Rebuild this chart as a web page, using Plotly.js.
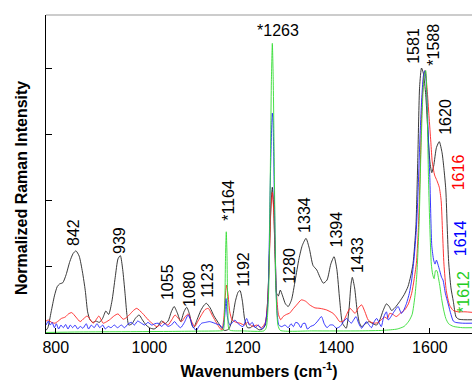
<!DOCTYPE html>
<html>
<head>
<meta charset="utf-8">
<script src="https://cdn.plot.ly/plotly-3.0.1.min.js"></script>
<style>
  html, body { margin: 0; padding: 0; background: #fff; }
  #chart { width: 472px; height: 383px; }
</style>
</head>
<body>
<div id="chart"></div>
<script>
// Raman spectra: [wavenumber (cm-1), normalized intensity]
const spectrumBlack = [
  [779,0.01],[783,0.02],[790,0.08],[797,0.14],[803,0.175],[808,0.185],[815,0.19],[822,0.22],
  [830,0.27],[837,0.30],[843,0.31],[850,0.29],[857,0.23],[863,0.16],[868,0.08],[873,0.05],
  [879,0.04],[886,0.045],[893,0.04],[900,0.055],[907,0.083],[913,0.07],[920,0.12],[927,0.21],
  [933,0.28],[938,0.292],[943,0.24],[948,0.15],[952,0.07],[956,0.03],[963,0.035],[970,0.055],
  [978,0.068],[985,0.05],[993,0.03],[1000,0.02],[1010,0.015],[1018,0.025],[1026,0.046],[1033,0.035],
  [1040,0.045],[1047,0.08],[1053,0.10],[1060,0.075],[1067,0.043],[1074,0.08],[1080,0.097],[1086,0.07],
  [1091,0.03],[1095,0.02],[1102,0.05],[1110,0.085],[1117,0.105],[1122,0.112],[1130,0.095],[1138,0.065],
  [1147,0.04],[1154,0.02],[1160,0.01],[1164,0.01],[1170,0.015],[1177,0.05],[1184,0.12],[1190,0.155],
  [1194,0.16],[1199,0.12],[1204,0.05],[1210,0.02],[1216,0.02],[1222,0.028],[1228,0.02],[1235,0.012],
  [1242,0.015],[1248,0.03],[1253,0.12],[1257,0.32],[1260,0.48],[1263,0.55],[1266,0.47],[1269,0.28],
  [1272,0.15],[1276,0.14],[1280,0.162],[1285,0.14],[1291,0.11],[1297,0.10],[1304,0.125],[1312,0.2],
  [1320,0.28],[1327,0.33],[1335,0.357],[1342,0.32],[1350,0.255],[1358,0.238],[1365,0.21],[1372,0.188],
  [1380,0.2],[1388,0.26],[1395,0.288],[1401,0.24],[1407,0.125],[1413,0.037],[1421,0.018],[1427,0.09],
  [1431,0.18],[1434,0.21],[1439,0.17],[1444,0.09],[1449,0.04],[1454,0.024],[1462,0.035],[1470,0.043],
  [1478,0.035],[1486,0.03],[1493,0.05],[1500,0.085],[1507,0.11],[1513,0.1],[1518,0.085],[1525,0.095],
  [1535,0.118],[1545,0.145],[1553,0.175],[1559,0.215],[1564,0.263],[1570,0.40],[1574,0.65],[1578,0.93],
  [1582,1.0],[1586,0.98],[1591,0.90],[1595,0.78],[1600,0.646],[1604,0.605],[1608,0.63],[1614,0.70],
  [1620,0.722],[1626,0.68],[1630,0.62],[1634,0.54],[1637,0.40],[1640,0.27],[1645,0.17],[1650,0.12],
  [1656,0.06],[1662,0.052],[1675,0.05],[1690,0.05]
];

const spectrumRed = [
  [779,0.045],[784,0.049],[791,0.04],[798,0.037],[805,0.045],[812,0.055],[820,0.06],[827,0.072],
  [834,0.077],[843,0.06],[852,0.043],[860,0.055],[867,0.064],[874,0.05],[880,0.037],[886,0.05],
  [892,0.064],[897,0.05],[901,0.037],[908,0.042],[915,0.05],[925,0.065],[933,0.072],[944,0.052],
  [951,0.058],[958,0.07],[966,0.085],[973,0.093],[985,0.075],[998,0.049],[1007,0.035],[1016,0.024],
  [1023,0.032],[1030,0.043],[1035,0.035],[1040,0.03],[1048,0.05],[1055,0.068],[1062,0.055],[1069,0.043],
  [1076,0.06],[1083,0.072],[1090,0.045],[1097,0.024],[1104,0.045],[1112,0.07],[1119,0.088],[1126,0.093],
  [1135,0.065],[1144,0.037],[1150,0.02],[1155,0.011],[1159,0.05],[1162,0.13],[1165,0.181],[1168,0.15],
  [1172,0.08],[1177,0.049],[1186,0.04],[1194,0.037],[1203,0.03],[1210,0.04],[1220,0.025],[1230,0.03],
  [1240,0.02],[1248,0.04],[1253,0.12],[1257,0.30],[1260,0.47],[1263,0.53],[1266,0.46],[1269,0.30],
  [1272,0.15],[1276,0.07],[1281,0.05],[1286,0.062],[1293,0.07],[1300,0.075],[1307,0.09],[1315,0.106],
  [1325,0.125],[1334,0.12],[1343,0.106],[1354,0.095],[1365,0.093],[1379,0.087],[1393,0.074],[1400,0.06],
  [1407,0.043],[1415,0.045],[1422,0.07],[1429,0.093],[1434,0.085],[1440,0.074],[1447,0.095],[1454,0.106],
  [1461,0.08],[1468,0.049],[1475,0.04],[1482,0.037],[1490,0.04],[1496,0.05],[1503,0.06],[1509,0.055],
  [1514,0.074],[1521,0.07],[1528,0.062],[1537,0.075],[1546,0.087],[1554,0.11],[1561,0.15],[1566,0.2],
  [1571,0.263],[1575,0.38],[1579,0.60],[1583,0.86],[1587,0.97],[1590,0.99],[1594,0.92],[1598,0.82],
  [1602,0.72],[1605,0.646],[1610,0.596],[1615,0.575],[1620,0.55],[1624,0.50],[1627,0.38],[1630,0.26],
  [1635,0.16],[1642,0.105],[1650,0.085],[1660,0.08],[1675,0.08],[1690,0.078]
];

const spectrumBlue = [
  [779,0.03],[784,0.045],[788,0.03],[792,0.04],[797,0.02],[801,0.035],[806,0.015],[811,0.03],
  [816,0.02],[821,0.032],[826,0.015],[831,0.03],[836,0.02],[841,0.03],[847,0.015],[852,0.025],
  [858,0.018],[865,0.035],[870,0.015],[876,0.03],[882,0.02],[888,0.035],[894,0.02],[900,0.03],
  [906,0.015],[912,0.025],[918,0.02],[925,0.03],[932,0.02],[940,0.03],[947,0.02],[955,0.035],
  [962,0.04],[968,0.03],[975,0.045],[983,0.037],[990,0.03],[997,0.04],[1005,0.03],[1012,0.035],
  [1019,0.037],[1026,0.025],[1033,0.035],[1040,0.025],[1047,0.03],[1054,0.043],[1060,0.03],[1067,0.02],
  [1075,0.04],[1083,0.068],[1088,0.05],[1094,0.02],[1101,0.011],[1106,0.025],[1112,0.037],[1120,0.04],
  [1129,0.043],[1138,0.038],[1145,0.033],[1151,0.03],[1157,0.019],[1161,0.06],[1164,0.13],[1167,0.06],
  [1172,0.03],[1178,0.04],[1183,0.049],[1190,0.035],[1200,0.024],[1208,0.055],[1214,0.03],[1220,0.04],
  [1226,0.02],[1233,0.03],[1240,0.015],[1247,0.03],[1253,0.10],[1256,0.30],[1259,0.60],[1262,0.80],
  [1263,0.83],[1264.5,0.80],[1267,0.55],[1270,0.25],[1273,0.08],[1277,0.03],[1283,0.024],[1290,0.03],
  [1297,0.02],[1303,0.035],[1308,0.024],[1313,0.04],[1318,0.037],[1324,0.02],[1328,0.035],[1333,0.037],
  [1338,0.015],[1345,0.025],[1352,0.03],[1360,0.045],[1368,0.062],[1374,0.035],[1380,0.02],[1386,0.03],
  [1393,0.03],[1400,0.018],[1408,0.025],[1414,0.04],[1422,0.055],[1427,0.045],[1432,0.037],[1437,0.05],
  [1442,0.062],[1448,0.035],[1454,0.018],[1459,0.03],[1464,0.043],[1470,0.03],[1475,0.02],[1480,0.04],
  [1486,0.055],[1491,0.04],[1496,0.024],[1501,0.06],[1507,0.08],[1511,0.049],[1516,0.06],[1521,0.074],
  [1527,0.09],[1532,0.10],[1539,0.074],[1545,0.09],[1550,0.112],[1556,0.15],[1561,0.2],[1566,0.28],
  [1571,0.39],[1575,0.55],[1579,0.75],[1583,0.90],[1586,0.97],[1589,0.99],[1592,0.95],[1595,0.82],
  [1598,0.67],[1600,0.577],[1604,0.33],[1608,0.275],[1611,0.26],[1614,0.275],[1617,0.26],[1621,0.235],
  [1625,0.21],[1628,0.2],[1633,0.15],[1639,0.11],[1645,0.07],[1650,0.045],[1655,0.04],[1670,0.037],
  [1690,0.037]
];

const spectrumGreen = [
  [779,0.002],[850,0.004],[950,0.005],[1050,0.006],[1100,0.007],[1150,0.008],[1158,0.01],[1161,0.08],
  [1163,0.30],[1164.5,0.382],[1166,0.30],[1168,0.08],[1171,0.012],[1200,0.008],[1245,0.008],[1250,0.02],
  [1255,0.15],[1258,0.50],[1261,0.95],[1263,1.093],[1265,0.95],[1268,0.50],[1271,0.15],[1275,0.03],
  [1280,0.01],[1350,0.008],[1450,0.008],[1500,0.01],[1530,0.015],[1545,0.025],[1555,0.045],[1562,0.07],
  [1568,0.14],[1572,0.22],[1577,0.42],[1581,0.70],[1585,0.90],[1588,0.97],[1591,0.99],[1594,0.85],
  [1597,0.58],[1600,0.39],[1603,0.26],[1606,0.22],[1609,0.205],[1612,0.235],[1615,0.235],[1618,0.21],
  [1621,0.18],[1625,0.13],[1629,0.09],[1634,0.055],[1640,0.035],[1650,0.025],[1670,0.02],[1690,0.02]
];

// Peak labels: [text, wavenumber position, intensity position, colour, angle]
const peakLabels = [
  ["842", 836.7, 0.381, "#000000", -90],
  ["939", 937.2, 0.351, "#000000", -90],
  ["1055", 1037.6, 0.192, "#000000", -90],
  ["1080", 1084.6, 0.166, "#000000", -90],
  ["1123", 1123.0, 0.200, "#000000", -90],
  ["*1164", 1170.0, 0.502, "#000000", -90],
  ["1192", 1202.0, 0.242, "#000000", -90],
  ["*1263", 1274.8, 1.140, "#000000", 0],
  ["1280", 1300.5, 0.253, "#000000", -90],
  ["1334", 1330.4, 0.445, "#000000", -90],
  ["1394", 1400.3, 0.389, "#000000", -90],
  ["1433", 1443.7, 0.294, "#000000", -90],
  ["1581", 1563.4, 1.083, "#000000", -90],
  ["*1588", 1608.3, 1.087, "#000000", -90],
  ["1620", 1631.8, 0.815, "#000000", -90],
  ["1616", 1661.0, 0.608, "#ff0000", -90],
  ["1614", 1664.5, 0.358, "#0000ff", -90],
  ["*1612", 1673.0, 0.155, "#22cc22", -90]
];

const FONT = "Arial, 'Liberation Sans', Helvetica, sans-serif";

function trace(data, color) {
  return {
    x: data.map(p => p[0]),
    y: data.map(p => p[1]),
    type: "scatter",
    mode: "lines",
    line: { color: color, width: 0.9, shape: "spline", smoothing: 0.6 },
    hoverinfo: "skip",
    showlegend: false
  };
}

const traces = [
  trace(spectrumBlack, "#222222"),
  trace(spectrumRed, "#ff2020"),
  trace(spectrumBlue, "#2020ff"),
  trace(spectrumGreen, "#33dd33")
];

const annotations = peakLabels.map(l => ({
  text: l[0], x: l[1], y: l[2], xref: "x", yref: "y",
  textangle: l[4], showarrow: false, xanchor: "center", yanchor: "middle",
  font: { family: FONT, size: 16, color: l[3] }
}));

annotations.push({
  text: "<b>Normalized Raman Intensity</b>",
  xref: "paper", yref: "paper", x: -0.057, y: 0.455,
  xanchor: "center", yanchor: "middle", textangle: -90, showarrow: false,
  font: { family: FONT, size: 16, color: "#000" }
});

const layout = {
  width: 472, height: 383,
  margin: { l: 46, r: 0, t: 15, b: 50 },
  paper_bgcolor: "#fff", plot_bgcolor: "#fff",
  xaxis: {
    range: [779, 1690],
    tick0: 800, dtick: 200,
    ticks: "inside", ticklen: 5, tickcolor: "#000", tickwidth: 1,
    minor: { tick0: 800, dtick: 100, ticks: "inside", ticklen: 5, tickcolor: "#000", tickwidth: 1, showgrid: false },
    showline: true, linecolor: "#000", linewidth: 1,
    showgrid: false, zeroline: false,
    tickfont: { family: FONT, size: 16, color: "#000" },
    title: { text: "<b>Wavenumbers (cm<sup>-1</sup>)</b>", standoff: 10,
             font: { family: FONT, size: 16, color: "#000" } }
  },
  yaxis: {
    range: [0, 1.2],
    tick0: 0, dtick: 0.25, showticklabels: false,
    ticks: "inside", ticklen: 6, tickcolor: "#000", tickwidth: 1,
    showline: true, linecolor: "#000", linewidth: 1,
    showgrid: false, zeroline: false
  },
  shapes: [{
    type: "line", xref: "paper", yref: "paper", x0: 0, x1: 1, y0: 1, y1: 1,
    line: { color: "#999", width: 1 }
  }],
  annotations: annotations
};

Plotly.newPlot("chart", traces, layout, { staticPlot: true, displayModeBar: false });
</script>
</body>
</html>
